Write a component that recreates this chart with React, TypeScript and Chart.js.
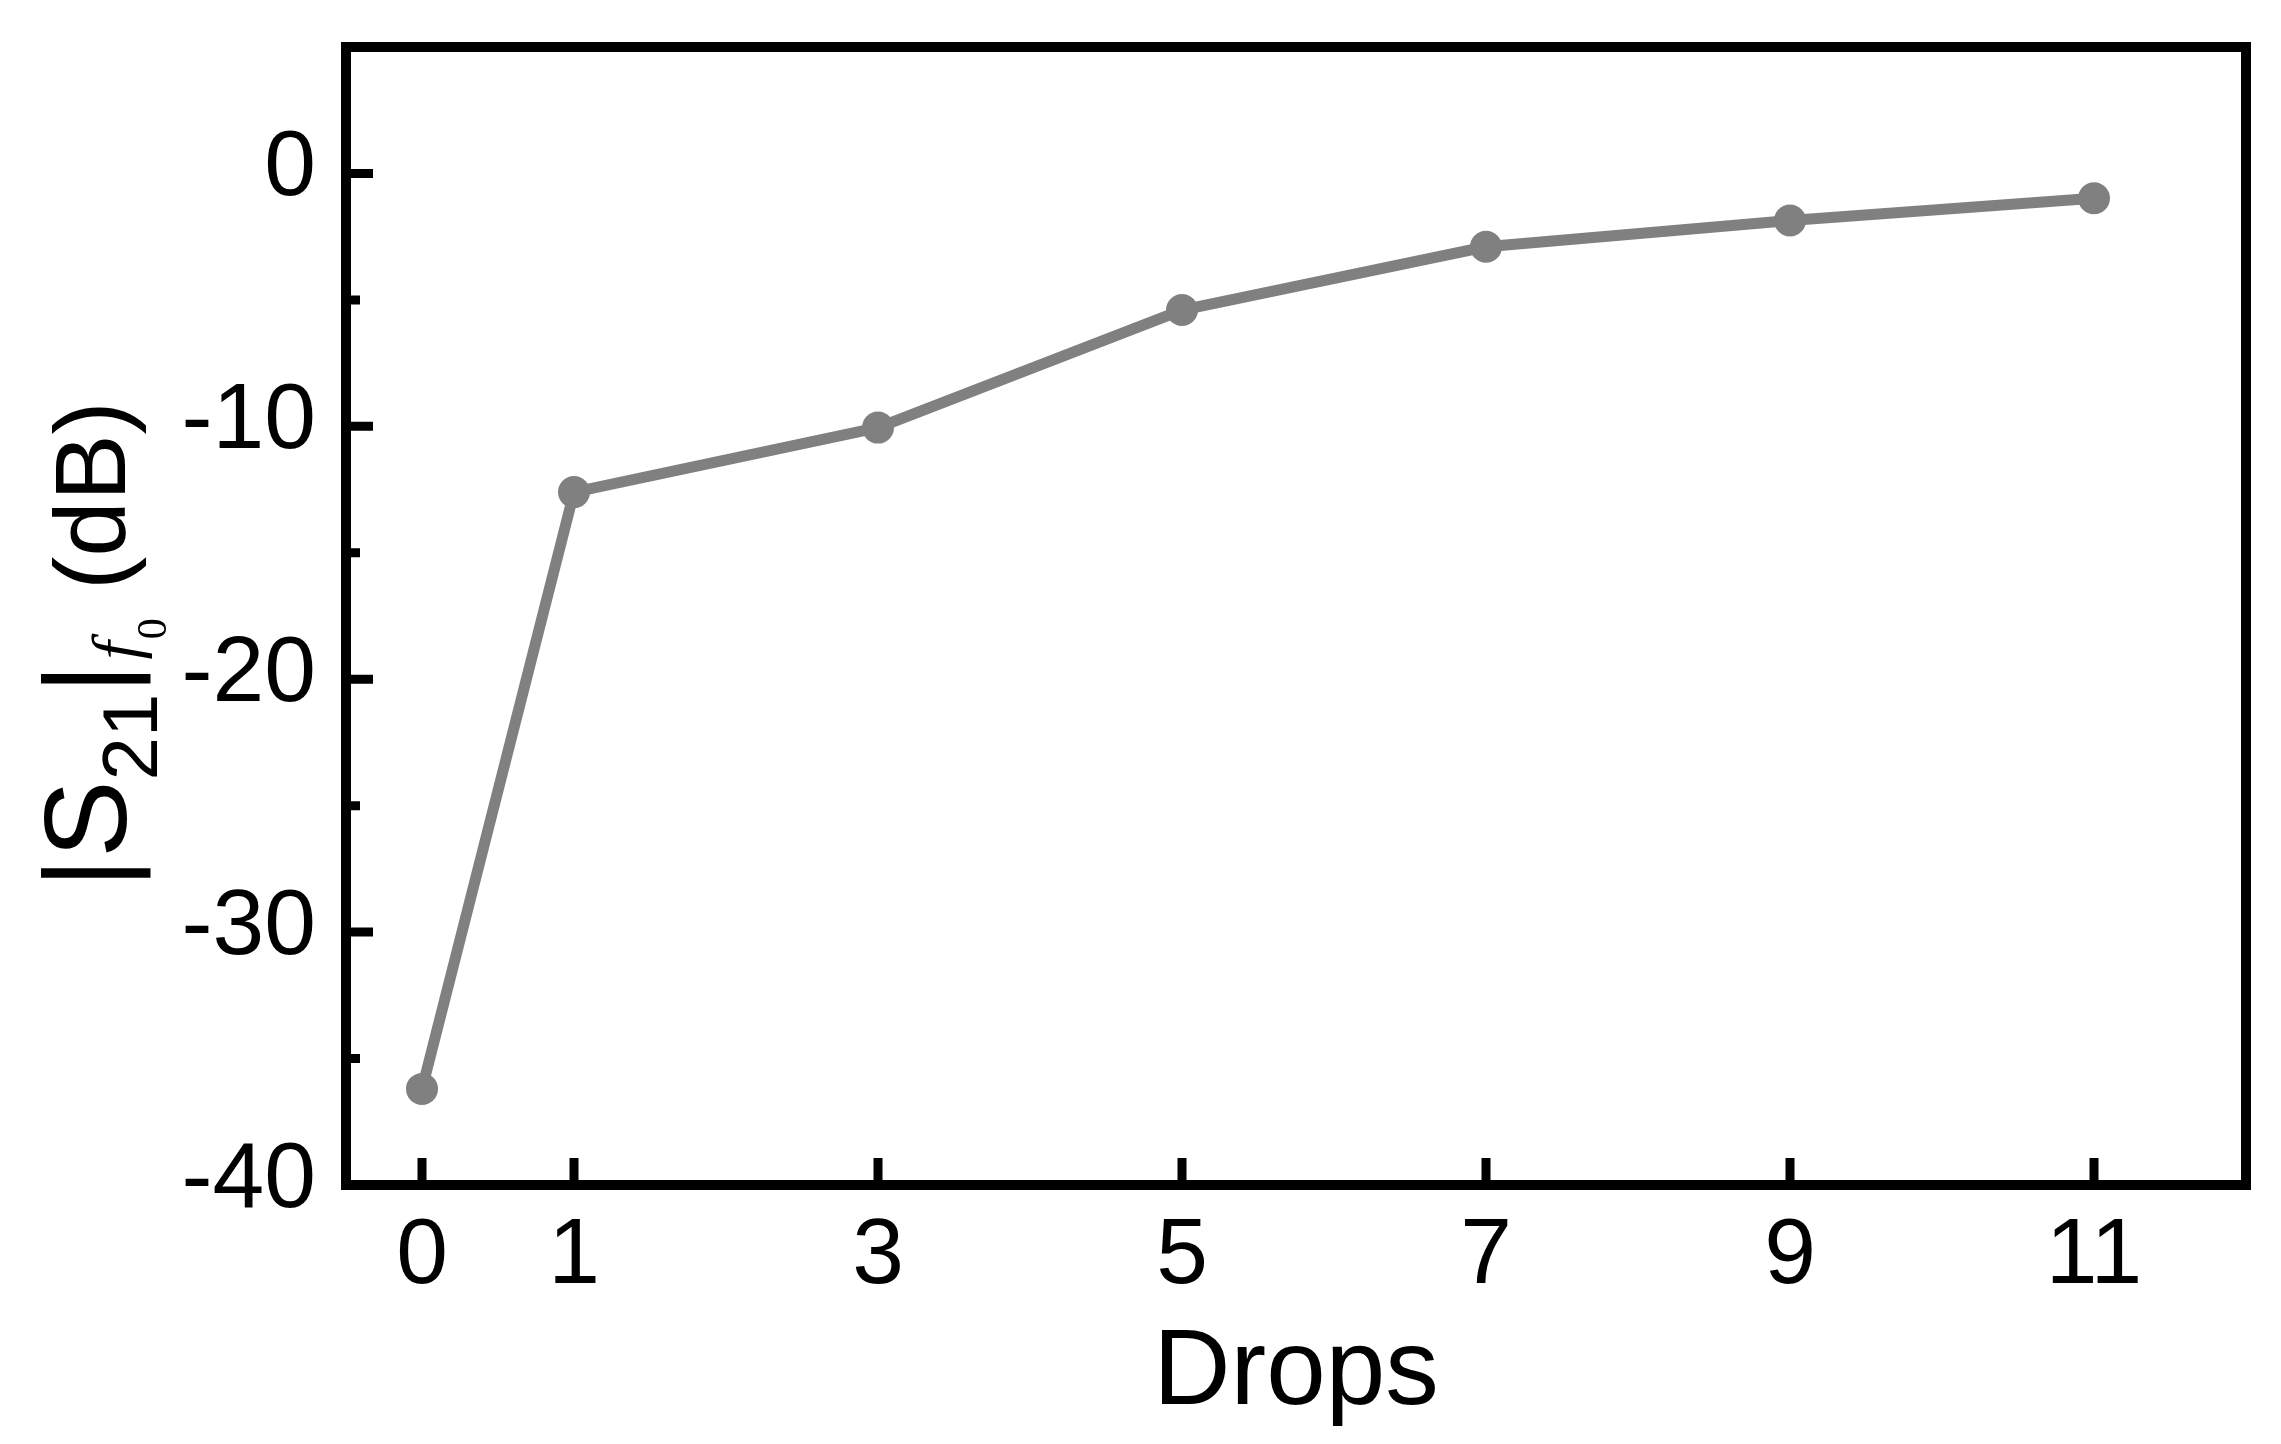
import React, { useEffect, useRef } from "react";
import { Chart, registerables } from "chart.js";

Chart.register(...registerables);

// ---- data ----
const drops = [0, 1, 3, 5, 7, 9, 11];
const s21AtF0 = [-36.2, -12.6, -10.05, -5.4, -2.9, -1.86, -0.98];
const xTickValues = [0, 1, 3, 5, 7, 9, 11];
const yMajorTicks = [-40, -30, -20, -10, 0];
const yMinorTicks = [-35, -25, -15, -5];
const xTitle = "Drops";

const W = 2281;
const H = 1444;
const SANS = "'Liberation Sans', Arial, sans-serif";
const SERIF = "'Liberation Serif', 'Times New Roman', serif";

const framePlugin = {
  id: "frameTicks",
  afterDraw(chart: any) {
    const { ctx, chartArea } = chart;
    const { left, right, top, bottom } = chartArea;
    const xs = chart.scales.x;
    const ys = chart.scales.y;
    ctx.save();
    ctx.strokeStyle = "#000";
    ctx.lineCap = "butt";
    ctx.lineWidth = 9;
    ctx.beginPath();
    for (const v of xTickValues) {
      const px = xs.getPixelForValue(v);
      ctx.moveTo(px, bottom);
      ctx.lineTo(px, bottom - 27);
    }
    for (const v of yMajorTicks) {
      const py = ys.getPixelForValue(v);
      ctx.moveTo(left, py);
      ctx.lineTo(left + 27, py);
    }
    for (const v of yMinorTicks) {
      const py = ys.getPixelForValue(v);
      ctx.moveTo(left, py);
      ctx.lineTo(left + 14, py);
    }
    ctx.stroke();
    ctx.lineWidth = 10;
    ctx.lineJoin = "miter";
    ctx.strokeRect(left, top, right - left, bottom - top);
    ctx.restore();
  },
};

const yTitlePlugin = {
  id: "yTitleRich",
  afterDraw(chart: any) {
    const ctx = chart.ctx;
    const originX = 126;
    const originY = 888;
    ctx.save();
    ctx.translate(originX, originY);
    ctx.rotate(-Math.PI / 2);
    ctx.fillStyle = "#000";
    ctx.textBaseline = "alphabetic";
    ctx.textAlign = "left";
    let x = 0;
    const run = (text: string, font: string, dy: number, gap = 0) => {
      ctx.font = font;
      ctx.fillText(text, x, dy);
      x += ctx.measureText(text).width + gap;
    };
    run("|S", `116px ${SANS}`, 0);
    run("21", `78px ${SANS}`, 31);
    run("|", `116px ${SANS}`, 0, 4);
    run("f", `italic 66px ${SERIF}`, 12, 2);
    run("0", `42px ${SERIF}`, 40);
    x = originY - 590;
    run("(dB)", `100px ${SANS}`, -1);
    ctx.restore();
  },
};

export default function App() {
  const ref = useRef<HTMLCanvasElement>(null);

  useEffect(() => {
    document.body.style.margin = "0";
    document.body.style.overflow = "hidden";
    const canvas = ref.current!;
    const chart = new Chart(canvas, {
      type: "line",
      data: {
        datasets: [
          {
            label: "S21",
            data: drops.map((d, i) => ({ x: d, y: s21AtF0[i] })),
            borderColor: "#808080",
            backgroundColor: "#808080",
            borderWidth: 11,
            pointRadius: 16,
            pointBackgroundColor: "#808080",
            pointBorderWidth: 0,
            tension: 0,
            clip: false as any,
          },
        ],
      },
      options: {
        responsive: false,
        animation: false,
        devicePixelRatio: 1,
        layout: { padding: { top: 47, right: W - 2246, left: 0, bottom: 0 } },
        plugins: {
          legend: { display: false },
          tooltip: { enabled: false },
        },
        scales: {
          x: {
            type: "linear",
            position: "bottom",
            min: -0.5,
            max: 12,
            afterBuildTicks: (s: any) => {
              s.ticks = xTickValues.map((v) => ({ value: v }));
            },
            afterFit: (s: any) => {
              s.height = H - 1185;
              s.paddingLeft = 0;
              s.paddingRight = 0;
              s.paddingTop = 0;
              s.paddingBottom = 0;
            },
            grid: { display: false, drawTicks: false },
            border: { display: false },
            ticks: {
              autoSkip: false,
              maxRotation: 0,
              padding: 26,
              color: "#000",
              font: { family: SANS, size: 93, lineHeight: 1 },
            },
            title: {
              display: true,
              text: xTitle,
              color: "#000",
              font: { family: SANS, size: 107, lineHeight: 1 },
              padding: { top: 0, bottom: 16 },
            },
          },
          y: {
            type: "linear",
            min: -40,
            max: 5,
            afterBuildTicks: (s: any) => {
              s.ticks = yMajorTicks.map((v) => ({ value: v }));
            },
            afterFit: (s: any) => {
              s.width = 346;
              s.paddingLeft = 0;
              s.paddingRight = 0;
              s.paddingTop = 0;
              s.paddingBottom = 0;
            },
            grid: { display: false, drawTicks: false },
            border: { display: false },
            ticks: {
              autoSkip: false,
              padding: 30,
              labelOffset: -4,
              color: "#000",
              font: { family: SANS, size: 93, lineHeight: 1 },
            },
          },
        },
      },
      plugins: [framePlugin, yTitlePlugin],
    } as any);
    return () => chart.destroy();
  }, []);

  return <canvas ref={ref} width={W} height={H} style={{ display: "block" }} />;
}
